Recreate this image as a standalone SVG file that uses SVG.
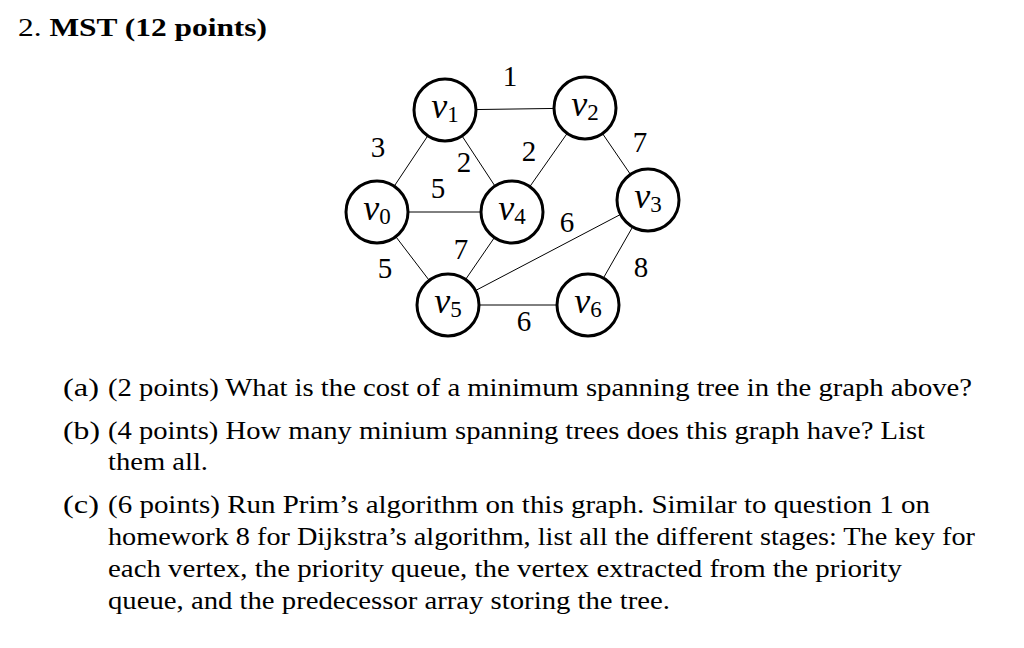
<svg xmlns="http://www.w3.org/2000/svg" width="1024" height="648" viewBox="0 0 1024 648">
<style>
text{font-family:"Liberation Serif",serif;fill:#000}
.t{font-size:25px}
.w{font-size:29px}
.v{font-size:36px;font-style:italic}
.s{font-size:23px;font-style:normal}
.n circle{fill:#fff;stroke:#000;stroke-width:3}
#edges line{stroke:#000;stroke-width:1}
</style>
<rect width="1024" height="648" fill="#fff"/>
<text x="18" y="36" class="t" textLength="249" lengthAdjust="spacingAndGlyphs">2. <tspan font-weight="bold">MST (12 points)</tspan></text>
<g id="edges">
<line x1="445" y1="110" x2="585" y2="108"/>
<line x1="445" y1="110" x2="377" y2="212"/>
<line x1="445" y1="110" x2="512" y2="212"/>
<line x1="585" y1="108" x2="512" y2="212"/>
<line x1="585" y1="108" x2="648" y2="200"/>
<line x1="377" y1="212" x2="512" y2="212"/>
<line x1="377" y1="212" x2="448" y2="305"/>
<line x1="512" y1="212" x2="448" y2="305"/>
<line x1="648" y1="200" x2="448" y2="305"/>
<line x1="648" y1="200" x2="588" y2="305"/>
<line x1="448" y1="305" x2="588" y2="305"/>
</g>
<g id="labels" class="w" text-anchor="middle">
<text x="510" y="86">1</text>
<text x="378" y="157">3</text>
<text x="464" y="172">2</text>
<text x="529" y="161">2</text>
<text x="640" y="152">7</text>
<text x="438" y="198">5</text>
<text x="567" y="232">6</text>
<text x="461" y="259">7</text>
<text x="385" y="278">5</text>
<text x="641" y="277">8</text>
<text x="524" y="331">6</text>
</g>
<g id="v1" class="n"><circle cx="445" cy="110" r="31"/><text x="445" y="118" class="v" text-anchor="middle">v<tspan class="s" dy="4">1</tspan></text></g>
<g id="v2" class="n"><circle cx="585" cy="108" r="31"/><text x="585" y="116" class="v" text-anchor="middle">v<tspan class="s" dy="4">2</tspan></text></g>
<g id="v0" class="n"><circle cx="377" cy="212" r="31"/><text x="377" y="220" class="v" text-anchor="middle">v<tspan class="s" dy="4">0</tspan></text></g>
<g id="v4" class="n"><circle cx="512" cy="212" r="31"/><text x="512" y="220" class="v" text-anchor="middle">v<tspan class="s" dy="4">4</tspan></text></g>
<g id="v3" class="n"><circle cx="648" cy="200" r="31"/><text x="648" y="208" class="v" text-anchor="middle">v<tspan class="s" dy="4">3</tspan></text></g>
<g id="v5" class="n"><circle cx="448" cy="305" r="31"/><text x="448" y="313" class="v" text-anchor="middle">v<tspan class="s" dy="4">5</tspan></text></g>
<g id="v6" class="n"><circle cx="588" cy="305" r="31"/><text x="588" y="313" class="v" text-anchor="middle">v<tspan class="s" dy="4">6</tspan></text></g>
<g class="t">
<text x="63" y="396" textLength="36" lengthAdjust="spacingAndGlyphs">(a)</text><text x="108" y="396" textLength="864" lengthAdjust="spacingAndGlyphs">(2 points) What is the cost of a minimum spanning tree in the graph above?</text>
<text x="63" y="439" textLength="37" lengthAdjust="spacingAndGlyphs">(b)</text><text x="108" y="439" textLength="817" lengthAdjust="spacingAndGlyphs">(4 points) How many minium spanning trees does this graph have? List</text>
<text x="108" y="470" textLength="100" lengthAdjust="spacingAndGlyphs">them all.</text>
<text x="63" y="513" textLength="36" lengthAdjust="spacingAndGlyphs">(c)</text><text x="108" y="513" textLength="822" lengthAdjust="spacingAndGlyphs">(6 points) Run Prim’s algorithm on this graph. Similar to question 1 on</text>
<text x="108" y="545" textLength="867" lengthAdjust="spacingAndGlyphs">homework 8 for Dijkstra’s algorithm, list all the different stages: The key for</text>
<text x="108" y="577" textLength="794" lengthAdjust="spacingAndGlyphs">each vertex, the priority queue, the vertex extracted from the priority</text>
<text x="108" y="609" textLength="562" lengthAdjust="spacingAndGlyphs">queue, and the predecessor array storing the tree.</text>
</g>
</svg>
